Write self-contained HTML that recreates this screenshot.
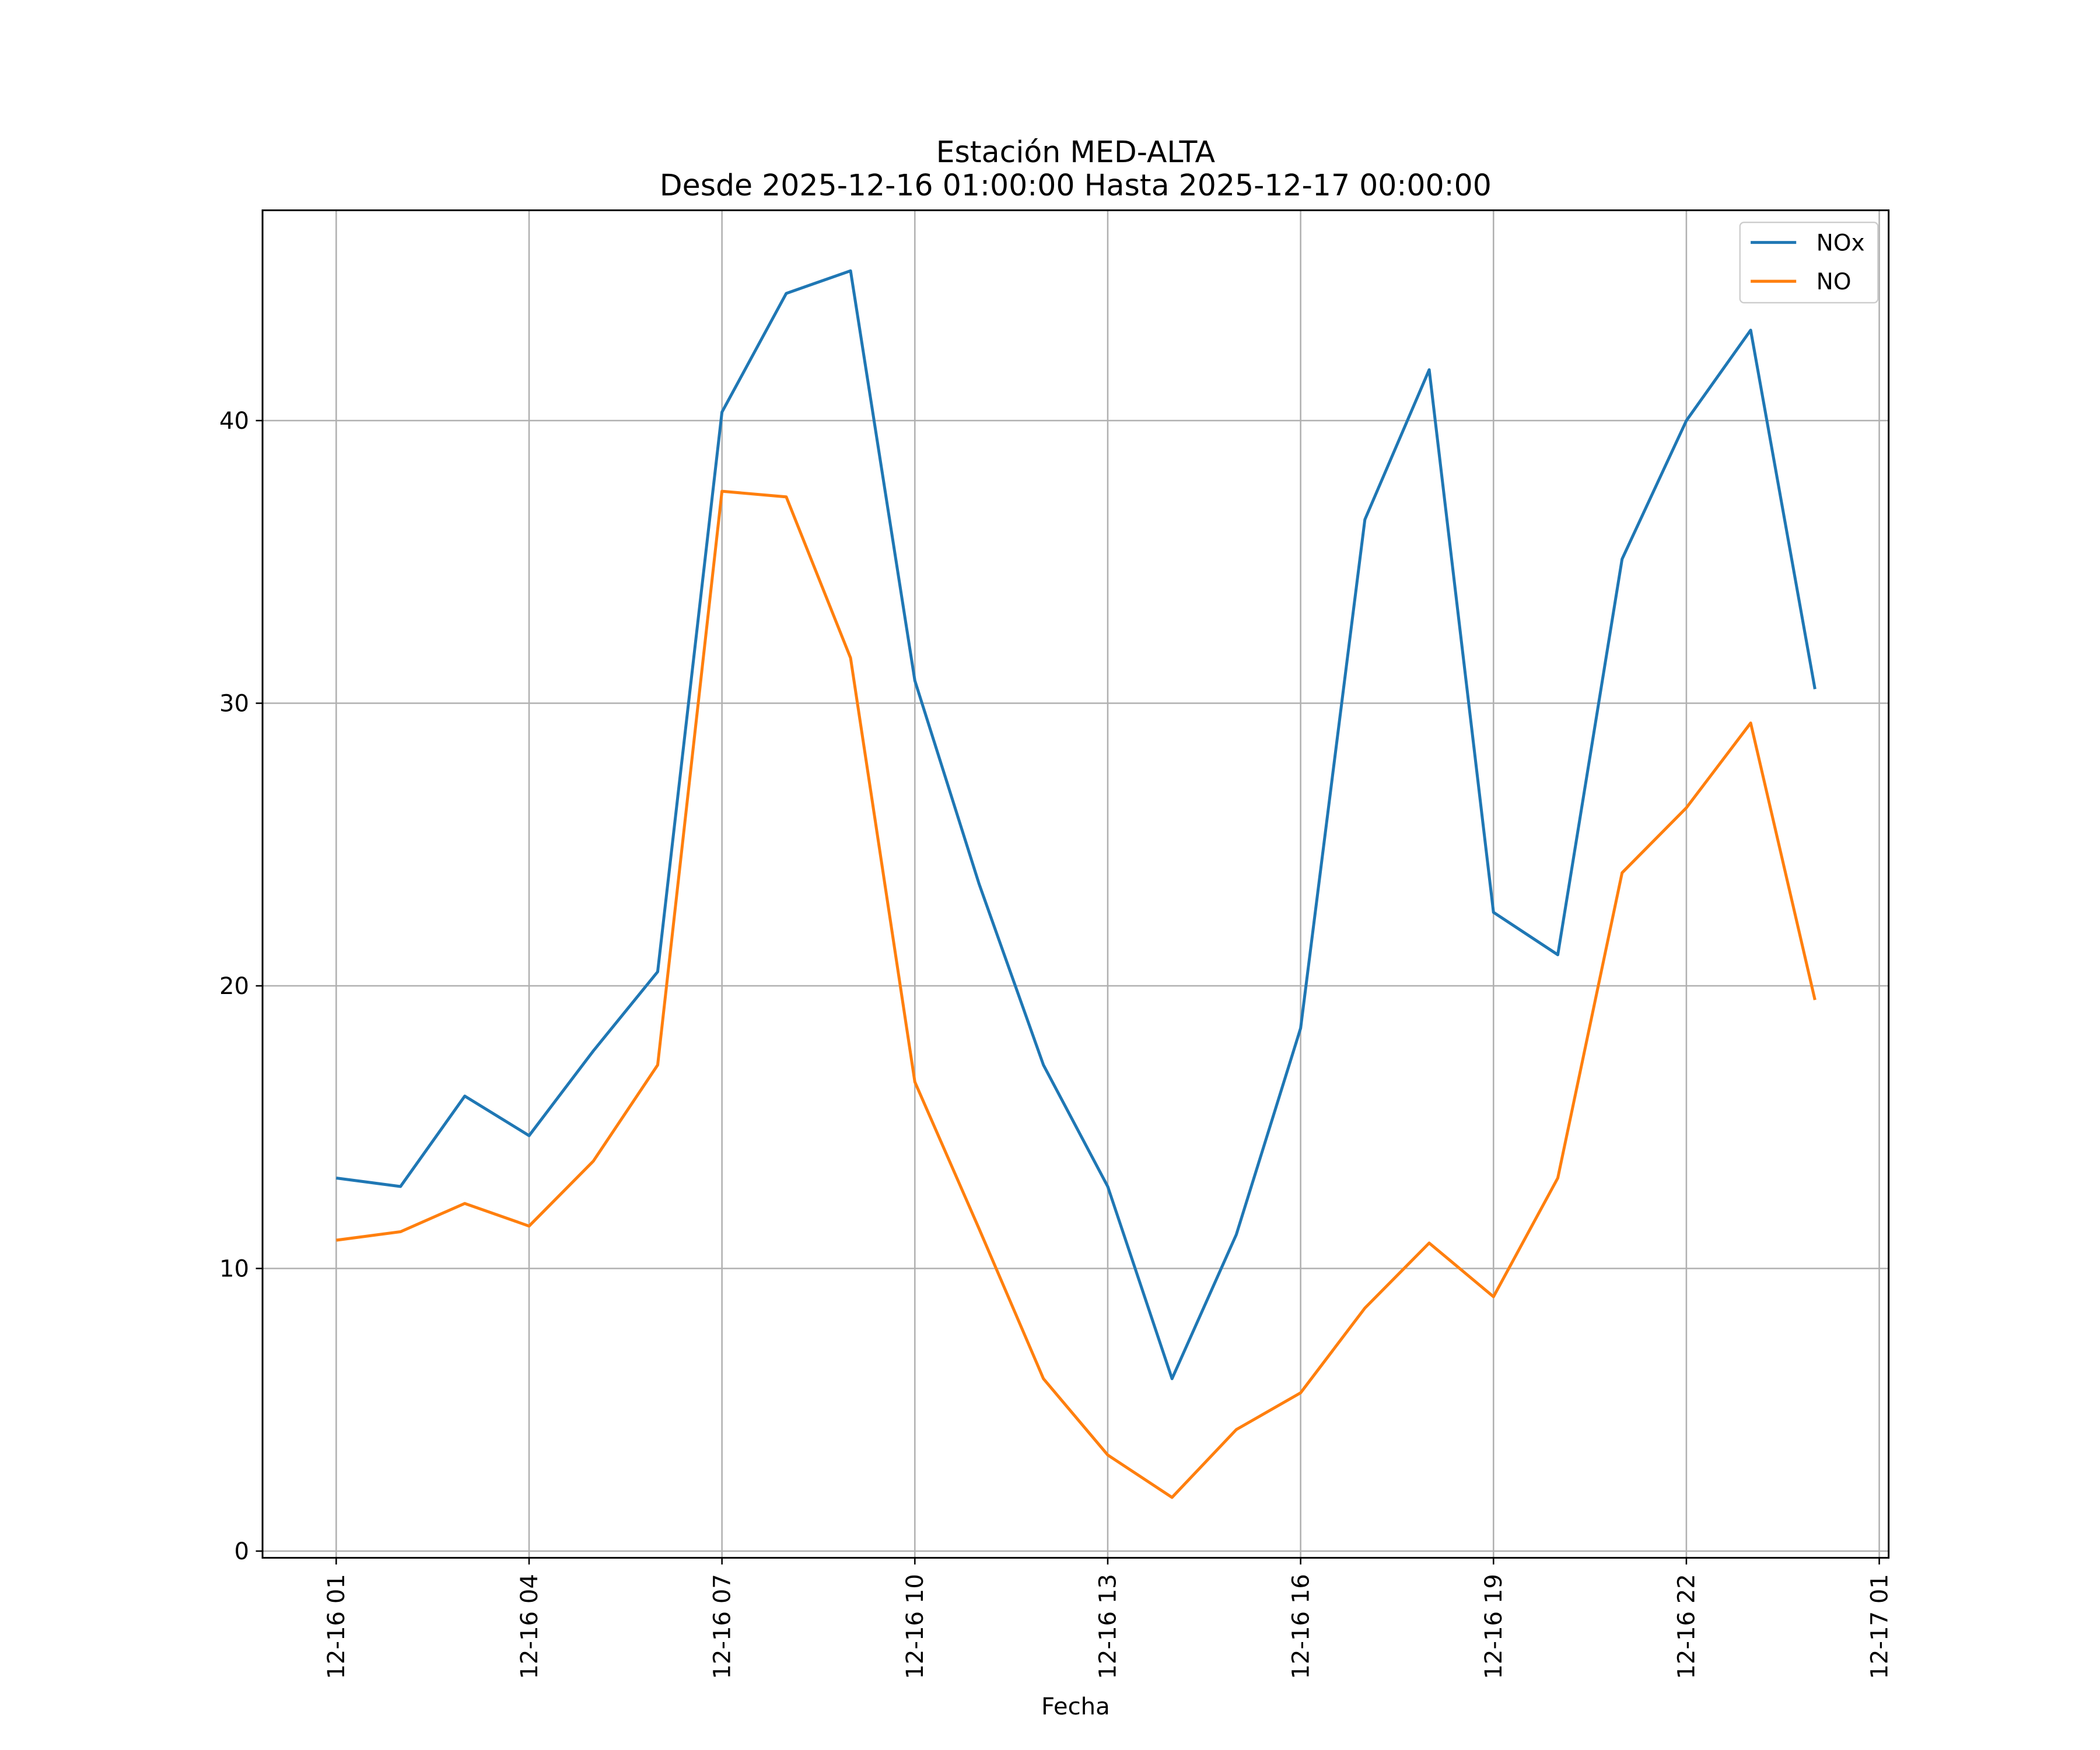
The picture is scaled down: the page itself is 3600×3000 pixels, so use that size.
<!DOCTYPE html>
<html><head><meta charset="utf-8"><style>
html,body{margin:0;padding:0;background:#fff;}
svg{display:block;font-family:"DejaVu Sans","Liberation Sans",sans-serif;}
</style></head><body>
<svg id="chart" width="3600" height="3000" viewBox="0 0 1567.8 1306.5" preserveAspectRatio="none">
<rect x="0" y="0" width="1570" height="1310" fill="#fff"/>
<text x="803" y="121" font-size="22" text-anchor="middle">Estación MED-ALTA</text>
<text x="803" y="146" font-size="22" text-anchor="middle">Desde 2025-12-16 01:00:00 Hasta 2025-12-17 00:00:00</text>
<g id="grid"></g>
<g id="series"></g>
<rect x="196" y="157" width="1214" height="1006" fill="none" stroke="#000" stroke-width="1.3"/>
<g id="ticks"></g>
<text x="803" y="1280" font-size="17.5" text-anchor="middle">Fecha</text>
<g>
<rect x="1299" y="166" width="103" height="60" fill="#fff" stroke="#ccc" rx="3"/>
<line x1="1307" y1="181" x2="1341" y2="181" stroke="#1f77b4" stroke-width="2.2"/>
<text x="1356" y="187" font-size="17">NOx</text>
<line x1="1307" y1="210" x2="1341" y2="210" stroke="#ff7f0e" stroke-width="2.2"/>
<text x="1356" y="216" font-size="17">NO</text>
</g>
</svg>
<script>
const hours = [0,1,2,3,4,5,6,7,8,9,10,11,12,13,14,15,16,17,18,19,20,21,22,23];
const noxValues = [13.2,12.9,16.1,14.7,17.7,20.5,40.3,44.5,45.3,30.8,23.6,17.2,12.9,6.1,11.2,18.5,36.5,41.8,22.6,21.1,35.1,40.0,43.2,30.5];
const noValues = [11.0,11.3,12.3,11.5,13.8,17.2,37.5,37.3,31.6,16.6,11.4,6.1,3.4,1.9,4.3,5.6,8.6,10.9,9.0,13.2,24.0,26.3,29.3,19.5];
const yTicks = [0,10,20,30,40];
const xTickHours = [0,3,6,9,12,15,18,21,24];
const xTickLabels = ["12-16 01","12-16 04","12-16 07","12-16 10","12-16 13","12-16 16","12-16 19","12-16 22","12-17 01"];

const NS = "http://www.w3.org/2000/svg";
function xs(h){ return 251 + h*48; }
function ys(v){ return 1158 - v*21.1; }
function mk(tag, attrs, parent){ const e=document.createElementNS(NS,tag); for(const k in attrs) e.setAttribute(k,attrs[k]); parent.appendChild(e); return e; }
const grid=document.getElementById('grid'), ticks=document.getElementById('ticks'), series=document.getElementById('series');

yTicks.forEach((v,i)=>{
  const y=ys(v);
  const g=mk('line',{x1:196,x2:1410,y1:y,y2:y,stroke:'#b0b0b0','stroke-width':1.1},grid);
  
  
  const t=mk('line',{x1:191,x2:196,y1:y,y2:y,stroke:'#000','stroke-width':1.1},ticks);
  
  
  const l=mk('text',{x:186,y:y+6,'font-size':17.5,'text-anchor':'end'},ticks);
  l.textContent=String(v);
  
  
});
xTickHours.forEach((h,i)=>{
  const x=xs(h);
  const g=mk('line',{x1:x,x2:x,y1:157,y2:1163,stroke:'#b0b0b0','stroke-width':1.1},grid);
  
  
  const t=mk('line',{x1:x,x2:x,y1:1163,y2:1168,stroke:'#000','stroke-width':1.1},ticks);
  
  
  const l=mk('text',{x:0,y:0,'font-size':17.5,'text-anchor':'end',transform:`translate(${x+6},1175) rotate(-90)`},ticks);
  l.textContent=xTickLabels[i];
  
  
});
function line(vals,color,name){
  const pts=vals.map((v,i)=>xs(hours[i])+','+ys(v)).join(' ');
  const p=mk('polyline',{points:pts,fill:'none',stroke:color,'stroke-width':2.2,'stroke-linejoin':'round'},series);
  
  
}
line(noxValues,'#1f77b4','nox-line');
line(noValues,'#ff7f0e','no-line');
</script>
</body></html>
